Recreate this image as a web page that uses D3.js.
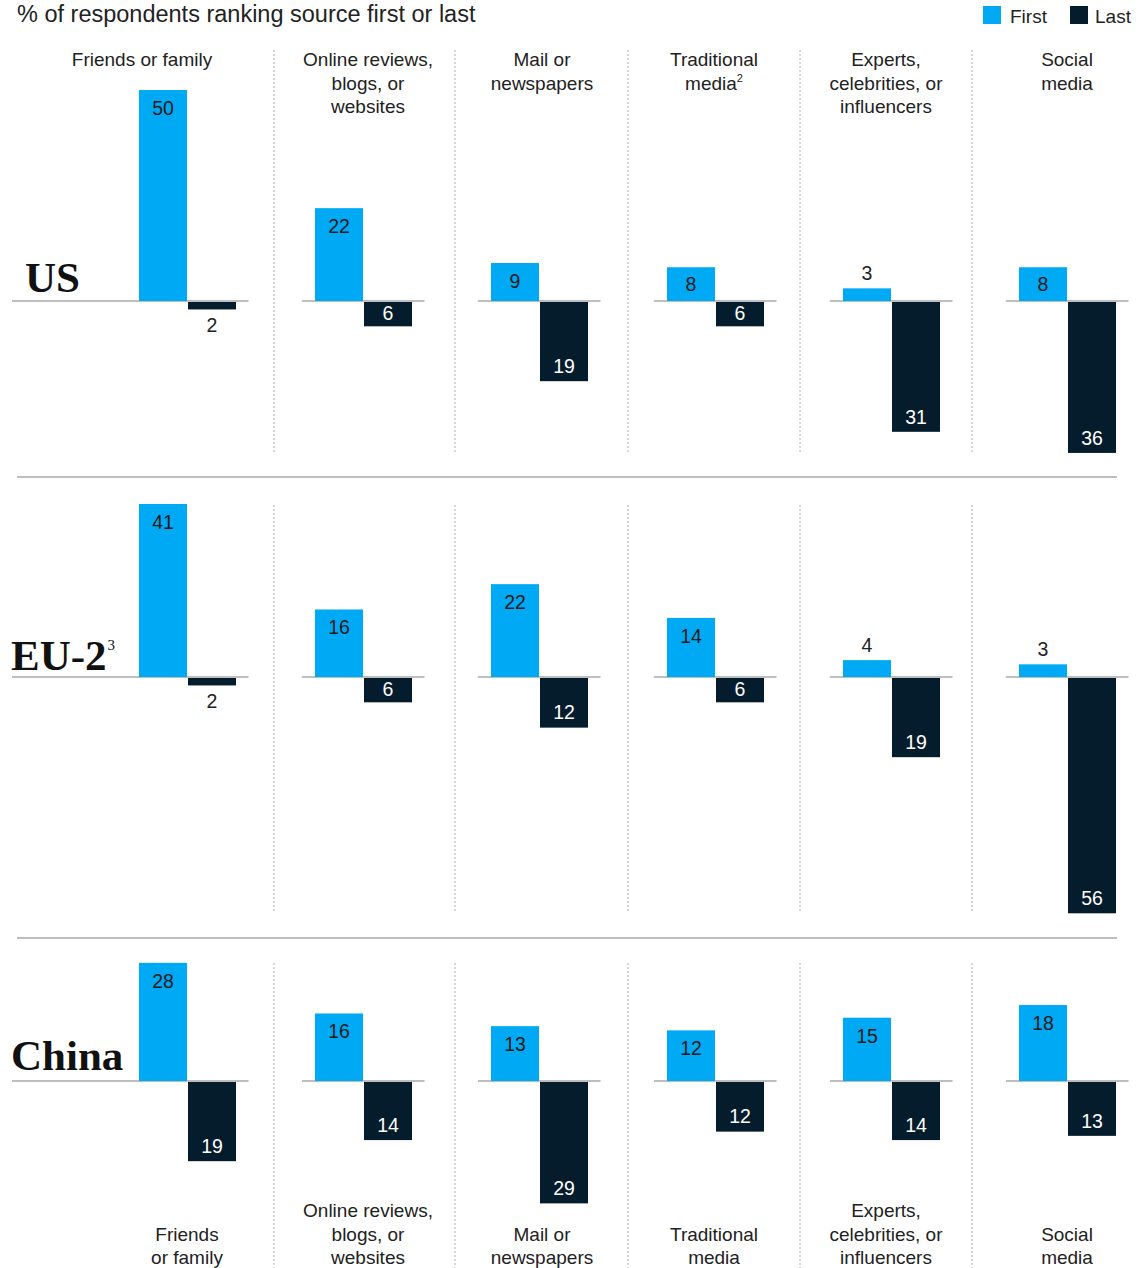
<!DOCTYPE html>
<html>
<head>
<meta charset="utf-8">
<script src="https://cdn.jsdelivr.net/npm/d3@7"></script>
<style>
  html, body { margin: 0; padding: 0; background: #fff; }
  svg { display: block; }
  text { font-family: "Liberation Sans", Arial, sans-serif; }
  text.region { font-family: "Liberation Serif", "Times New Roman", serif; }
</style>
</head>
<body>
<svg id="chart" width="1148" height="1268"></svg>
<script>
// ---------- DATA ----------
const categories = ["Friends or family", "Online reviews, blogs, or websites", "Mail or newspapers",
                    "Traditional media", "Experts, celebrities, or influencers", "Social media"];
const headerLines = [["Friends or family"], ["Online reviews,", "blogs, or", "websites"], ["Mail or", "newspapers"],
                     ["Traditional", "media"], ["Experts,", "celebrities, or", "influencers"], ["Social", "media"]];
const headerNotes = ["", "", "", "2", "", ""];
const footerLines = [["Friends", "or family"], ["Online reviews,", "blogs, or", "websites"], ["Mail or", "newspapers"],
                     ["Traditional", "media"], ["Experts,", "celebrities, or", "influencers"], ["Social", "media"]];
const regions = ["US", "EU-2", "China"];
const regionNotes = ["", "3", ""];
const series = ["First", "Last"];
const firstUS    = [50, 22, 9, 8, 3, 8];
const lastUS     = [2, 6, 19, 6, 31, 36];
const firstEU    = [41, 16, 22, 14, 4, 3];
const lastEU     = [2, 6, 12, 6, 19, 56];
const firstChina = [28, 16, 13, 12, 15, 18];
const lastChina  = [19, 14, 29, 12, 14, 13];
const title = "% of respondents ranking source first or last";

// ---------- LAYOUT ----------
const colors = { First: "#00A9F4", Last: "#051C2C" };
const textColor = "#222";
const pxPerUnit = 4.22;
const panels = [
  { first: firstUS, last: lastUS, base: 301, sepTop: 50, sepBot: 452, labelX: 25, labelY: 292 },
  { first: firstEU, last: lastEU, base: 677, sepTop: 505, sepBot: 911, labelX: 11, labelY: 670 },
  { first: firstChina, last: lastChina, base: 1081, sepTop: 963, sepBot: 1268, labelX: 11, labelY: 1070 }
];
const separators = [274, 455, 628, 800, 972];
const headerX = [142, 368, 542, 714, 886, 1067];
const footerX = [187, 368, 542, 714, 886, 1067];
const dividers = [477, 938];

const svg = d3.select("#chart");

const x0 = d3.scalePoint().domain(categories).range([187.5, 1067.5]);
const x1 = d3.scaleBand().domain(series).range([-48.5, 48.5]).paddingInner(0.02);

// title
svg.append("text").attr("x", 17).attr("y", 21.5).attr("font-size", 23.5).attr("fill", textColor).text(title);

// legend
const leg = svg.append("g");
[["First", 983, 1010], ["Last", 1070, 1095]].forEach(([s, rx, tx]) => {
  leg.append("rect").attr("x", rx).attr("y", 6).attr("width", 18).attr("height", 18).attr("fill", colors[s]);
  leg.append("text").attr("x", tx).attr("y", 23).attr("font-size", 19).attr("fill", textColor).text(s);
});

// header (top)
categories.forEach((c, i) => {
  const lines = headerLines[i];
  lines.forEach((ln, j) => {
    const t = svg.append("text").attr("x", headerX[i]).attr("y", 66 + j * 23.5)
      .attr("text-anchor", "middle").attr("font-size", 19).attr("fill", textColor).text(ln);
    if (j === lines.length - 1 && headerNotes[i]) {
      t.append("tspan").attr("font-size", 11).attr("dy", -8).text(headerNotes[i]);
    }
  });
});

// footer (bottom)
categories.forEach((c, i) => {
  const lines = footerLines[i];
  const n = lines.length;
  lines.forEach((ln, j) => {
    svg.append("text").attr("x", footerX[i]).attr("y", 1264 - (n - 1 - j) * 23.5)
      .attr("text-anchor", "middle").attr("font-size", 19).attr("fill", textColor).text(ln);
  });
});

// dividers
dividers.forEach(y => {
  svg.append("line").attr("x1", 17).attr("x2", 1117).attr("y1", y).attr("y2", y)
    .attr("stroke", "#a9a9a9").attr("stroke-width", 1.6);
});

// panels
panels.forEach((p, ri) => {
  const g = svg.append("g");
  const y = d3.scaleLinear().domain([-60, 60]).range([p.base + 60 * pxPerUnit, p.base - 60 * pxPerUnit]);

  // separators
  separators.forEach(sx => {
    g.append("line").attr("x1", sx).attr("x2", sx).attr("y1", p.sepTop).attr("y2", p.sepBot)
      .attr("stroke", "#b0b0b0").attr("stroke-width", 1).attr("stroke-dasharray", "2,2");
  });

  // region label
  const rl = g.append("text").attr("class", "region").attr("x", p.labelX).attr("y", p.labelY)
    .attr("font-weight", "bold").attr("font-size", 43).attr("fill", "#111").text(regions[ri]);
  if (regionNotes[ri]) rl.append("tspan").attr("font-size", 15).attr("font-weight", "normal")
    .attr("dy", -20).attr("dx", 1).text(regionNotes[ri]);

  const data = categories.map((c, i) => ({ c, i, first: p.first[i], last: p.last[i] }));

  // baselines
  data.forEach(d => {
    const cx = x0(d.c);
    const xs = d.i === 0 ? 12 : cx - 61.5;
    g.append("line").attr("x1", xs).attr("x2", cx + 61).attr("y1", y(0)).attr("y2", y(0))
      .attr("stroke", "#a9a9a9").attr("stroke-width", 1.5);
  });

  const bars = [];
  data.forEach(d => {
    bars.push({ c: d.c, s: "First", v: d.first });
    bars.push({ c: d.c, s: "Last", v: -d.last });
  });

  g.selectAll("rect.bar").data(bars).join("rect").attr("class", "bar")
    .attr("x", d => x0(d.c) + x1(d.s))
    .attr("width", x1.bandwidth())
    .attr("y", d => Math.min(y(d.v), y(0)) + (d.s === "Last" ? 1 : 0))
    .attr("height", d => Math.abs(y(d.v) - y(0)) - (d.s === "Last" ? 1 : 0))
    .attr("fill", d => colors[d.s]);

  g.selectAll("text.val").data(bars).join("text").attr("class", "val")
    .attr("x", d => x0(d.c) + x1(d.s) + x1.bandwidth() / 2)
    .attr("text-anchor", "middle").attr("font-size", 19.5)
    .each(function (d) {
      const h = Math.abs(y(d.v) - y(0));
      let cy, fill;
      if (d.s === "First") {
        const top = y(d.v), bot = y(0);
        if (h >= 30) { cy = Math.min(top + 18, (top + bot) / 2); fill = "#1a1a1a"; }
        else { cy = top - 15; fill = textColor; }
      } else {
        const top = y(0), bot = y(d.v);
        if (h >= 20) { cy = Math.max(bot - 15, (top + bot) / 2); fill = "#ffffff"; }
        else { cy = bot + 16; fill = textColor; }
      }
      d3.select(this).attr("y", cy + 6.8).attr("fill", fill).text(Math.abs(d.v));
    });
});
</script>
</body>
</html>
